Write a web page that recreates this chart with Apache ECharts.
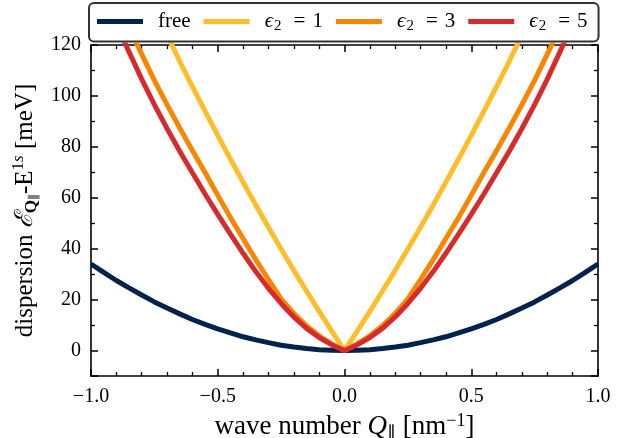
<!DOCTYPE html>
<html>
<head>
<meta charset="utf-8">
<script src="https://cdn.jsdelivr.net/npm/echarts@6/dist/echarts.min.js"></script>
<style>html,body{margin:0;padding:0;background:#fff}#c{width:634px;height:438px}</style>
</head>
<body>
<div id="c"></div>
<script>
// wave number grid [nm^-1]
const qValues = [-1.00,-0.95,-0.90,-0.85,-0.80,-0.75,-0.70,-0.65,-0.60,-0.55,-0.50,-0.45,-0.40,-0.35,-0.30,-0.25,-0.20,-0.15,-0.10,-0.05,0.00,
  0.05,0.10,0.15,0.20,0.25,0.30,0.35,0.40,0.45,0.50,0.55,0.60,0.65,0.70,0.75,0.80,0.85,0.90,0.95,1.00];
// dispersion [meV]
const freeVals = [34,30.7,27.5,24.6,21.8,19.1,16.7,14.4,12.2,10.3,8.5,6.9,5.4,4.2,3.1,2.1,1.4,0.8,0.3,0.1,0,
  0.1,0.3,0.8,1.4,2.1,3.1,4.2,5.4,6.9,8.5,10.3,12.2,14.4,16.7,19.1,21.8,24.6,27.5,30.7,34];
const eps1Vals = [null,null,null,null,null,null,124,113.6,103.7,94,84.5,75.2,66.1,57.2,48.4,39.9,31.5,23.4,15.4,7.6,0,
  7.6,15.4,23.4,31.5,39.9,48.4,57.2,66.1,75.2,84.5,94,103.7,113.6,124,null,null,null,null,null,null];
const eps3Vals = [null,null,null,127,116.4,106.1,96.6,87.4,78.6,69.9,61,52.2,44,35.7,27.9,20.25,14.6,9.75,5.8,2.6,0,
  2.6,5.8,9.75,14.6,20.25,27.9,35.7,44,52.2,61,69.9,78.6,87.4,96.6,106.1,116.4,127,null,null,null];
const eps5Vals = [null,null,128.3,117.3,106.6,96.6,87.2,78.3,69.8,61.5,53.5,45.7,38.2,31,24.45,18.5,13.2,8.7,5.1,2.2,0,
  2.2,5.1,8.7,13.2,18.5,24.45,31,38.2,45.7,53.5,61.5,69.8,78.3,87.2,96.6,106.6,117.3,128.3,null,null];
const seriesNames = ['free','ϵ₂ = 1','ϵ₂ = 3','ϵ₂ = 5'];
const legendRich = ['{t|free}','{e|ϵ}{s|2}{t|\u2004=\u20041}','{e|ϵ}{s|2}{t|\u2004=\u20043}','{e|ϵ}{s|2}{t|\u2004=\u20045}'];
const seriesColors = ['#00224B','#FDBE2A','#F88600','#D62B2D'];
const xTicks = [-1.0,-0.5,0.0,0.5,1.0];
const yTicks = [0,20,40,60,80,100,120];

const FONT = 'Liberation Serif';
function pairs(vals){ const out=[]; vals.forEach((v,i)=>{ if(v!==null) out.push([qValues[i],v]); }); return out; }
const allVals = [freeVals,eps1Vals,eps3Vals,eps5Vals];

const tickStyle = {color:'#000',width:1.5};
function xAx(pos, labels){
  return {
    type:'value', min:xTicks[0], max:xTicks[xTicks.length-1], interval:0.5, position:pos,
    axisLine:{show:true,onZero:false,lineStyle:{color:'#000',width:1.6}},
    axisTick:{show:true,inside:true,length:7,lineStyle:tickStyle},
    minorTick:{show:true,splitNumber:5,length:4,lineStyle:{color:'#000',width:1.3}},
    splitLine:{show:false},
    axisLabel:{show:labels,color:'#000',fontSize:20,fontFamily:FONT,margin:11,
      formatter:v=>v.toFixed(1).replace('-','−')}
  };
}
function yAx(pos, labels){
  return {
    type:'value', min:-10, max:yTicks[yTicks.length-1], splitNumber:6, position:pos,
    axisLine:{show:true,onZero:false,lineStyle:{color:'#000',width:1.6}},
    axisTick:{show:true,inside:true,length:7,lineStyle:tickStyle},
    minorTick:{show:true,splitNumber:2,length:4,lineStyle:{color:'#000',width:1.3}},
    splitLine:{show:false},
    axisLabel:{show:labels,color:'#000',fontSize:20,fontFamily:FONT,margin:10,
      formatter:v=> (yTicks.indexOf(v)>=0 ? String(v) : '')}
  };
}
function makeRich(fs){
  const sub = Math.round(fs*0.67);
  return {
    t:{fontSize:fs,fontFamily:FONT,color:'#000',lineHeight:30},
    i:{fontSize:fs,fontFamily:FONT,fontStyle:'italic',color:'#000',lineHeight:30},
    sb:{fontSize:sub,fontFamily:FONT,fontWeight:'bold',color:'#000',lineHeight:sub,verticalAlign:'bottom'},
    ss:{fontSize:12,fontFamily:FONT,color:'#000',lineHeight:12,verticalAlign:'bottom'},
    sbn:{fontSize:sub,fontFamily:FONT,color:'#000',lineHeight:sub,verticalAlign:'bottom'},
    sp:{fontSize:sub,fontFamily:FONT,color:'#000',lineHeight:sub,verticalAlign:'top'},
    spi:{fontSize:sub,fontFamily:FONT,fontStyle:'italic',color:'#000',lineHeight:sub,verticalAlign:'top'}
  };
}

const xa = xAx('bottom', true);
xa.name = '{t|wave number }{i|Q}{sbn|∥}{t| [nm}{sp|−1}{t|]}';
xa.nameLocation = 'middle'; xa.nameGap = 18;
xa.nameTextStyle = {rich:makeRich(27)};
const ya = yAx('left', true);
ya.name = '{t|dispersion }{i|ℰ}{sb|Q}{ss|∥}{t|-E}{sp|1}{spi|s}{t| [meV]}';
ya.nameLocation = 'middle'; ya.nameGap = 47; ya.nameRotate = 90;
ya.nameTextStyle = {rich:makeRich(25)};

const option = {
  animation:false,
  backgroundColor:'#fff',
  grid:{left:91,right:36,top:45,bottom:62,containLabel:false,outerBoundsMode:'none'},
  legend:{
    data:seriesNames, left:89, top:3, orient:'horizontal',
    icon:'rect', itemWidth:46, itemHeight:5, itemGap:13,
    padding:[8,11,8,8],
    backgroundColor:'#fff', borderColor:'#333', borderWidth:2, borderRadius:5,
    formatter: n => legendRich[seriesNames.indexOf(n)],
    textStyle:{fontSize:21,fontFamily:FONT,color:'#000',padding:[0,0,0,10],
      rich:{
        t:{fontSize:21,fontFamily:FONT,color:'#000',lineHeight:24},
        e:{fontSize:21,fontFamily:FONT,fontStyle:'italic',color:'#000',lineHeight:24},
        s:{fontSize:15,fontFamily:FONT,color:'#000',lineHeight:15,verticalAlign:'bottom',padding:[0,5,0,1]}
      }}
  },
  xAxis:[xa, xAx('top', false)],
  yAxis:[ya, yAx('right', false)],
  series: seriesNames.map((n,k)=>({
    name:n, type:'line', xAxisIndex:0, yAxisIndex:0,
    data:pairs(allVals[k]), showSymbol:false, symbol:'none', clip:true,
    lineStyle:{color:seriesColors[k],width:5}, itemStyle:{color:seriesColors[k]},
    z:2+k
  }))
};
const chart = echarts.init(document.getElementById('c'),null,{renderer:'canvas'});
chart.setOption(option);
</script>
</body>
</html>
